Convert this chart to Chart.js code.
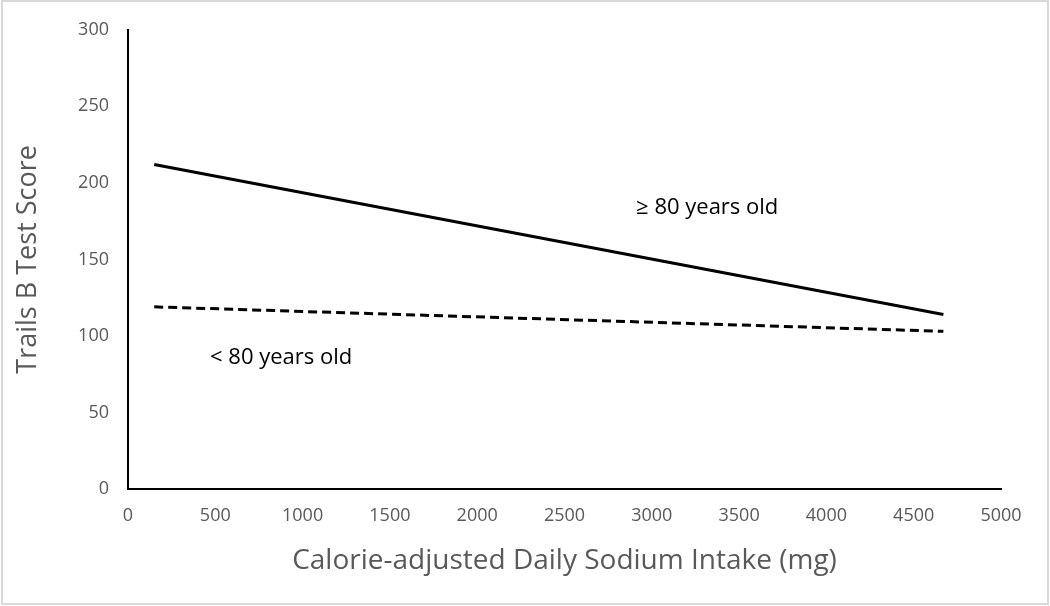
<!DOCTYPE html>
<html>
<head>
<meta charset="utf-8">
<script src="https://cdn.jsdelivr.net/npm/chart.js@4/dist/chart.umd.min.js"></script>
<style>
  html, body { margin: 0; padding: 0; background: #ffffff; }
  #wrap { width: 1050px; height: 606px; }
</style>
</head>
<body>
<div id="wrap"><canvas id="c" width="1050" height="606"></canvas></div>
<script>
// Data
const sodiumX = [150, 4670];
const scoreOld = [212, 114];     // ≥ 80 years old (solid)
const scoreYoung = [119, 103];   // < 80 years old (dashed)
const xTicks = [0, 500, 1000, 1500, 2000, 2500, 3000, 3500, 4000, 4500, 5000];
const yTicks = [0, 50, 100, 150, 200, 250, 300];
const labelOld = "≥ 80 years old";
const labelYoung = "< 80 years old";
const labelOldPos = [2910, 184];
const labelYoungPos = [470, 86];
const xTitle = "Calorie-adjusted Daily Sodium Intake (mg)";
const yTitle = "Trails B Test Score";

const FONT = "'Open Sans', 'Noto Sans', sans-serif";
const GRAY = "#595959";

const frame = {
  id: 'frame',
  beforeDraw(chart) {
    const ctx = chart.ctx;
    ctx.save();
    ctx.fillStyle = '#ffffff';
    ctx.fillRect(0, 0, chart.width, chart.height);
    ctx.restore();
  },
  afterDraw(chart) {
    const ctx = chart.ctx;
    ctx.save();
    ctx.strokeStyle = '#d9d9d9';
    ctx.lineWidth = 2;
    ctx.strokeRect(2, 1, chart.width - 4, chart.height - 3);
    // annotations
    const xs = chart.scales.x, ys = chart.scales.y;
    ctx.fillStyle = '#000000';
    ctx.font = "22px " + FONT;
    ctx.textBaseline = 'middle';
    ctx.textAlign = 'left';
    ctx.fillText(labelOld, xs.getPixelForValue(labelOldPos[0]), ys.getPixelForValue(labelOldPos[1]));
    ctx.fillText(labelYoung, xs.getPixelForValue(labelYoungPos[0]), ys.getPixelForValue(labelYoungPos[1]));
    ctx.restore();
  }
};

new Chart(document.getElementById('c'), {
  type: 'scatter',
  data: {
    datasets: [
      {
        label: labelOld,
        data: sodiumX.map((x, i) => ({ x: x, y: scoreOld[i] })),
        showLine: true,
        borderColor: '#000000',
        borderWidth: 3,
        pointRadius: 0,
        fill: false
      },
      {
        label: labelYoung,
        data: sodiumX.map((x, i) => ({ x: x, y: scoreYoung[i] })),
        showLine: true,
        borderColor: '#000000',
        borderWidth: 3,
        borderDash: [9, 5],
        pointRadius: 0,
        fill: false
      }
    ]
  },
  options: {
    responsive: false,
    animation: false,
    devicePixelRatio: 1,
    layout: { padding: { left: 8, right: 49, top: 27, bottom: 28 } },
    plugins: { legend: { display: false }, tooltip: { enabled: false } },
    scales: {
      x: {
        type: 'linear',
        min: 0, max: 5000,
        afterBuildTicks(scale) { scale.ticks = xTicks.map(v => ({ value: v })); },
        afterFit(scale) { scale.height = 89; },
        grid: { display: false, drawTicks: false },
        border: { display: true, color: '#000000', width: 2 },
        ticks: { color: GRAY, font: { family: FONT, size: 18 }, padding: 16, maxRotation: 0, callback: v => String(v) },
        title: { display: true, text: xTitle, color: GRAY, font: { family: FONT, size: 28 }, padding: { top: 4, bottom: 0 } }
      },
      y: {
        type: 'linear',
        min: 0, max: 300,
        afterBuildTicks(scale) { scale.ticks = yTicks.map(v => ({ value: v })); },
        afterFit(scale) { scale.width = 120; },
        grid: { display: false, drawTicks: false },
        border: { display: true, color: '#000000', width: 2 },
        ticks: { color: GRAY, font: { family: FONT, size: 18 }, padding: 19, callback: v => String(v) },
        title: { display: true, text: yTitle, color: GRAY, font: { family: FONT, size: 27 }, padding: { top: 4, bottom: 4 } }
      }
    }
  },
  plugins: [frame]
});
</script>
</body>
</html>
